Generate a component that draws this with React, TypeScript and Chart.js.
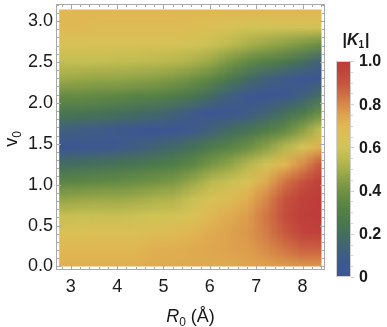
import React, { useEffect, useRef } from "react";
import { Chart, registerables } from "chart.js";

Chart.register(...registerables);

// ---- grid coordinates ----
const R0_VALUES = [2.8, 3.2, 3.6, 4.0, 4.4, 4.8, 5.2, 5.6, 6.0, 6.4, 6.8, 7.2, 7.6, 8.0, 8.4];
const V0_VALUES = [0.0, 0.209, 0.419, 0.628, 0.838, 1.047, 1.257, 1.466, 1.676, 1.885, 2.094, 2.304, 2.513, 2.723, 2.932, 3.142];

// ---- |K1|, one column per R0 (rows follow V0_VALUES) ----
const K1_R28 = [0.72, 0.70, 0.65, 0.57, 0.46, 0.33, 0.19, 0.03, 0.12, 0.25, 0.37, 0.49, 0.57, 0.64, 0.69, 0.70];
const K1_R32 = [0.72, 0.70, 0.65, 0.58, 0.47, 0.34, 0.20, 0.05, 0.11, 0.24, 0.37, 0.48, 0.57, 0.64, 0.69, 0.70];
const K1_R36 = [0.72, 0.70, 0.66, 0.58, 0.48, 0.35, 0.21, 0.06, 0.09, 0.23, 0.36, 0.47, 0.57, 0.64, 0.68, 0.70];
const K1_R40 = [0.72, 0.70, 0.66, 0.58, 0.48, 0.36, 0.23, 0.08, 0.07, 0.21, 0.35, 0.47, 0.56, 0.64, 0.68, 0.70];
const K1_R44 = [0.72, 0.70, 0.66, 0.59, 0.49, 0.38, 0.24, 0.11, 0.05, 0.19, 0.33, 0.46, 0.56, 0.64, 0.68, 0.70];
const K1_R48 = [0.73, 0.72, 0.67, 0.60, 0.51, 0.40, 0.27, 0.14, 0.02, 0.17, 0.32, 0.45, 0.55, 0.63, 0.68, 0.70];
const K1_R52 = [0.73, 0.72, 0.68, 0.61, 0.52, 0.42, 0.29, 0.17, 0.03, 0.14, 0.29, 0.43, 0.54, 0.63, 0.68, 0.70];
const K1_R56 = [0.73, 0.73, 0.70, 0.64, 0.58, 0.47, 0.34, 0.21, 0.07, 0.09, 0.25, 0.40, 0.52, 0.61, 0.67, 0.70];
const K1_R60 = [0.73, 0.74, 0.73, 0.69, 0.63, 0.54, 0.41, 0.27, 0.13, 0.03, 0.19, 0.35, 0.48, 0.59, 0.66, 0.70];
const K1_R64 = [0.73, 0.75, 0.75, 0.73, 0.67, 0.58, 0.46, 0.32, 0.18, 0.05, 0.12, 0.27, 0.42, 0.55, 0.64, 0.70];
const K1_R68 = [0.74, 0.76, 0.77, 0.76, 0.72, 0.64, 0.53, 0.38, 0.22, 0.09, 0.06, 0.19, 0.36, 0.51, 0.62, 0.70];
const K1_R72 = [0.75, 0.79, 0.82, 0.83, 0.80, 0.73, 0.61, 0.45, 0.28, 0.14, 0.02, 0.13, 0.31, 0.48, 0.61, 0.70];
const K1_R76 = [0.76, 0.83, 0.89, 0.92, 0.90, 0.83, 0.70, 0.53, 0.35, 0.20, 0.06, 0.09, 0.26, 0.45, 0.61, 0.70];
const K1_R80 = [0.77, 0.87, 0.95, 0.98, 0.97, 0.91, 0.79, 0.63, 0.45, 0.27, 0.12, 0.03, 0.20, 0.42, 0.61, 0.70];
const K1_R84 = [0.77, 0.87, 0.97, 1.00, 1.00, 0.98, 0.90, 0.72, 0.57, 0.38, 0.20, 0.04, 0.13, 0.38, 0.62, 0.70];
const K1_COLUMNS = [K1_R28, K1_R32, K1_R36, K1_R40, K1_R44, K1_R48, K1_R52, K1_R56, K1_R60, K1_R64, K1_R68, K1_R72, K1_R76, K1_R80, K1_R84];

// extent of the plotted density region
const R0_EXTENT = [2.75, 8.41];
const V0_EXTENT = [0, 3.1416];

// ---- axes ----
const X_MIN = 2.681;
const X_MAX = 8.485;
const Y_MIN = -0.043;
const Y_MAX = 3.208;
const X_TICKS = [3, 4, 5, 6, 7, 8];
const Y_TICKS = [0, 0.5, 1.0, 1.5, 2.0, 2.5, 3.0];
const CB_TICKS = [0, 0.2, 0.4, 0.6, 0.8, 1.0];
const CB_LABELS = ["0", "0.2", "0.4", "0.6", "0.8", "1.0"];

// ---- colour scale (value, r, g, b) ----
const COLOR_STOPS: number[][] = [
  [0.0, 60, 85, 150],
  [0.05, 61, 87, 146],
  [0.1, 63, 92, 134],
  [0.15, 66, 101, 112],
  [0.2, 69, 110, 92],
  [0.25, 74, 119, 78],
  [0.3, 82, 127, 70],
  [0.35, 95, 136, 68],
  [0.4, 113, 146, 68],
  [0.45, 138, 160, 70],
  [0.5, 165, 174, 74],
  [0.55, 190, 187, 80],
  [0.6, 207, 196, 86],
  [0.65, 218, 193, 86],
  [0.7, 225, 183, 82],
  [0.75, 222, 163, 78],
  [0.8, 215, 136, 73],
  [0.85, 206, 108, 67],
  [0.9, 198, 84, 62],
  [0.95, 193, 68, 60],
  [1.0, 190, 60, 58],
];

const FONT = "'Liberation Sans', Arial, Helvetica, sans-serif";
const TEXT_COLOR = "#1a1a1a";
const FRAME_COLOR = "#a8a8a8";

function cmap(v: number): [number, number, number] {
  const t = Math.max(0, Math.min(1, v));
  for (let k = 0; k < COLOR_STOPS.length - 1; k++) {
    const a = COLOR_STOPS[k];
    const b = COLOR_STOPS[k + 1];
    if (t >= a[0] && t <= b[0]) {
      const f = (t - a[0]) / (b[0] - a[0]);
      return [a[1] + (b[1] - a[1]) * f, a[2] + (b[2] - a[2]) * f, a[3] + (b[3] - a[3]) * f];
    }
  }
  const l = COLOR_STOPS[COLOR_STOPS.length - 1];
  return [l[1], l[2], l[3]];
}

const heatmapPlugin = {
  id: "heatmap",
  beforeDatasetsDraw(chart: any) {
    const { ctx } = chart;
    const xs = chart.scales.x;
    const ys = chart.scales.y;
    const nC = R0_VALUES.length;
    const nR = V0_VALUES.length;
    const off = document.createElement("canvas");
    off.width = nC;
    off.height = nR;
    const octx = off.getContext("2d")!;
    const img = octx.createImageData(nC, nR);
    for (let i = 0; i < nC; i++) {
      for (let j = 0; j < nR; j++) {
        const [r, g, b] = cmap(K1_COLUMNS[i][j]);
        const idx = ((nR - 1 - j) * nC + i) * 4;
        img.data[idx] = Math.round(r);
        img.data[idx + 1] = Math.round(g);
        img.data[idx + 2] = Math.round(b);
        img.data[idx + 3] = 255;
      }
    }
    octx.putImageData(img, 0, 0);
    const dR = (R0_VALUES[nC - 1] - R0_VALUES[0]) / (nC - 1);
    const dV = (V0_VALUES[nR - 1] - V0_VALUES[0]) / (nR - 1);
    const left = xs.getPixelForValue(R0_VALUES[0] - dR / 2);
    const right = xs.getPixelForValue(R0_VALUES[nC - 1] + dR / 2);
    const top = ys.getPixelForValue(V0_VALUES[nR - 1] + dV / 2);
    const bottom = ys.getPixelForValue(V0_VALUES[0] - dV / 2);
    const cl = xs.getPixelForValue(R0_EXTENT[0]);
    const cr = xs.getPixelForValue(R0_EXTENT[1]);
    const ct = ys.getPixelForValue(V0_EXTENT[1]);
    const cb = ys.getPixelForValue(V0_EXTENT[0]);
    ctx.save();
    ctx.beginPath();
    ctx.rect(cl, ct, cr - cl, cb - ct);
    ctx.clip();
    ctx.imageSmoothingEnabled = true;
    ctx.drawImage(off, left, top, right - left, bottom - top);
    ctx.restore();
  },
};

const framePlugin = {
  id: "frame",
  afterDatasetsDraw(chart: any) {
    const { ctx, chartArea } = chart;
    const xs = chart.scales.x;
    const ys = chart.scales.y;
    const L = Math.round(chartArea.left) + 0.5;
    const R = Math.round(chartArea.right) - 0.5;
    const T = Math.round(chartArea.top) + 0.5;
    const B = Math.round(chartArea.bottom) - 0.5;
    ctx.save();
    ctx.strokeStyle = FRAME_COLOR;
    ctx.lineWidth = 1;
    ctx.strokeRect(L, T, R - L, B - T);
    ctx.beginPath();
    for (let k = 14; k <= 42; k++) {
      const v = k / 5;
      const px = Math.round(xs.getPixelForValue(v)) + 0.5;
      const major = k % 5 === 0;
      const len = major ? 4.5 : 2.5;
      ctx.moveTo(px, B);
      ctx.lineTo(px, B - len);
      ctx.moveTo(px, T);
      ctx.lineTo(px, T + len);
    }
    for (let k = 0; k <= 32; k++) {
      const v = k / 10;
      const py = Math.round(ys.getPixelForValue(v)) + 0.5;
      const major = k % 5 === 0;
      const len = major ? 4.5 : 2.5;
      ctx.moveTo(L, py);
      ctx.lineTo(L + len, py);
      ctx.moveTo(R, py);
      ctx.lineTo(R - len, py);
    }
    ctx.stroke();
    ctx.restore();
  },
};

const titlePlugin = {
  id: "titles",
  afterDraw(chart: any) {
    const { ctx } = chart;
    ctx.save();
    ctx.fillStyle = TEXT_COLOR;
    ctx.textBaseline = "alphabetic";
    // x title: R0 (Å)
    const mainX = `italic 18px ${FONT}`;
    const subF = `12px ${FONT}`;
    const restF = `18px ${FONT}`;
    ctx.font = mainX;
    const wR = ctx.measureText("R").width;
    ctx.font = subF;
    const w0 = ctx.measureText("0").width;
    ctx.font = restF;
    const wRest = ctx.measureText(" (Å)").width;
    const total = wR + w0 + wRest;
    const cx = (chart.chartArea.left + chart.chartArea.right) / 2;
    let x0 = cx - total / 2;
    const by = 322;
    ctx.textAlign = "left";
    ctx.font = mainX;
    ctx.fillText("R", x0, by);
    x0 += wR;
    ctx.font = subF;
    ctx.fillText("0", x0, by + 4);
    x0 += w0;
    ctx.font = restF;
    ctx.fillText(" (Å)", x0, by);

    // y title: v0 (rotated)
    ctx.save();
    const cy = 139;
    ctx.translate(17, cy);
    ctx.rotate(-Math.PI / 2);
    ctx.font = restF;
    const wv = ctx.measureText("v").width;
    ctx.font = subF;
    const wz = ctx.measureText("0").width;
    let s = -(wv + wz) / 2;
    ctx.font = restF;
    ctx.fillText("v", s, 0);
    s += wv;
    ctx.font = subF;
    ctx.fillText("0", s, 4);
    ctx.restore();
    ctx.restore();
  },
};

const colorbarPlugin = {
  id: "colorbar",
  afterDraw(chart: any) {
    const { ctx } = chart;
    const bx = 336;
    const bw = 15;
    const bTop = 61;
    const bBot = 277;
    const toY = (v: number) => bBot - (bBot - bTop) * v;
    ctx.save();
    for (let py = bTop; py < bBot; py++) {
      const v = (bBot - (py + 0.5)) / (bBot - bTop);
      const [r, g, b] = cmap(v);
      ctx.fillStyle = `rgb(${Math.round(r)},${Math.round(g)},${Math.round(b)})`;
      ctx.fillRect(bx, py, bw, 1);
    }
    ctx.strokeStyle = "#d0d0d0";
    ctx.lineWidth = 1;
    ctx.strokeRect(bx + 0.5, bTop + 0.5, bw - 1, bBot - bTop - 1);
    ctx.beginPath();
    for (let k = 0; k <= 20; k++) {
      const py = Math.round(toY(k / 20)) + 0.5;
      const len = k % 4 === 0 ? 3 : 2;
      ctx.moveTo(bx + bw, py);
      ctx.lineTo(bx + bw + len, py);
    }
    ctx.stroke();
    // labels
    ctx.fillStyle = TEXT_COLOR;
    ctx.font = `bold 16px ${FONT}`;
    ctx.textAlign = "left";
    ctx.textBaseline = "middle";
    CB_TICKS.forEach((t, i) => {
      ctx.fillText(CB_LABELS[i], 359, toY(t) + 1);
    });
    // title |K1|
    ctx.textBaseline = "alphabetic";
    const fb = `bold 16px ${FONT}`;
    const fk = `italic bold 16px ${FONT}`;
    const fs = `bold 10px ${FONT}`;
    ctx.font = fb;
    const wBar = ctx.measureText("|").width;
    ctx.font = fk;
    const wK = ctx.measureText("K").width;
    ctx.font = fs;
    const w1 = ctx.measureText("1").width;
    const tot = wBar * 2 + wK + w1 + 1;
    let tx = 356 - tot / 2;
    const ty = 45;
    ctx.font = fb;
    ctx.fillText("|", tx, ty);
    tx += wBar;
    ctx.font = fk;
    ctx.fillText("K", tx, ty);
    tx += wK;
    ctx.font = fs;
    ctx.fillText("1", tx, ty + 3);
    tx += w1 + 1;
    ctx.font = fb;
    ctx.fillText("|", tx, ty);
    ctx.restore();
  },
};

export default function App() {
  const canvasRef = useRef<HTMLCanvasElement | null>(null);

  useEffect(() => {
    document.body.style.margin = "0";
    const canvas = canvasRef.current;
    if (!canvas) return;
    const points: { x: number; y: number }[] = [];
    R0_VALUES.forEach((r) => V0_VALUES.forEach((v) => points.push({ x: r, y: v })));
    const tickFont = { family: FONT, size: 18 };
    const chart = new Chart(canvas, {
      type: "scatter",
      data: {
        datasets: [
          {
            data: points,
            pointRadius: 0,
            pointHoverRadius: 0,
            showLine: false,
          },
        ],
      },
      options: {
        animation: false,
        responsive: false,
        events: [],
        devicePixelRatio: 1,
        layout: { padding: { left: 0, top: 4, right: 62, bottom: 0 } },
        plugins: { legend: { display: false }, tooltip: { enabled: false } },
        scales: {
          x: {
            type: "linear",
            min: X_MIN,
            max: X_MAX,
            grid: { display: false, drawTicks: false },
            border: { display: false },
            afterBuildTicks: (axis: any) => {
              axis.ticks = X_TICKS.map((v) => ({ value: v }));
            },
            afterFit: (axis: any) => {
              axis.height = 57;
              axis.paddingLeft = 0;
              axis.paddingRight = 0;
            },
            ticks: {
              font: tickFont,
              color: TEXT_COLOR,
              padding: 6,
              maxRotation: 0,
              autoSkip: false,
              callback: (v: any) => String(v),
            },
          },
          y: {
            type: "linear",
            min: Y_MIN,
            max: Y_MAX,
            grid: { display: false, drawTicks: false },
            border: { display: false },
            afterBuildTicks: (axis: any) => {
              axis.ticks = Y_TICKS.map((v) => ({ value: v }));
            },
            afterFit: (axis: any) => {
              axis.width = 56;
              axis.paddingTop = 0;
              axis.paddingBottom = 0;
            },
            ticks: {
              font: tickFont,
              color: TEXT_COLOR,
              padding: 3,
              autoSkip: false,
              callback: (v: any) => Number(v).toFixed(1),
            },
          },
        },
      },
      plugins: [heatmapPlugin, framePlugin, titlePlugin, colorbarPlugin],
    } as any);
    return () => chart.destroy();
  }, []);

  return (
    <div style={{ position: "absolute", left: 0, top: 0, width: 387, height: 327 }}>
      <canvas ref={canvasRef} width={387} height={327} style={{ display: "block" }} />
    </div>
  );
}
